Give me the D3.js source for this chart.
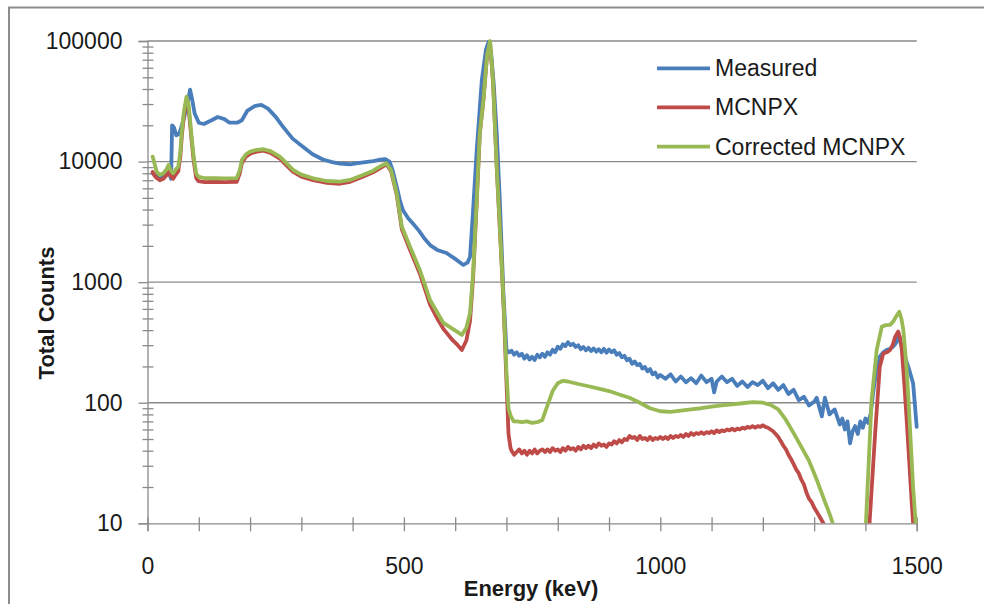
<!DOCTYPE html>
<html>
<head>
<meta charset="utf-8">
<script src="https://cdn.jsdelivr.net/npm/d3@7.9.0/dist/d3.min.js"></script>
<style>
  body { margin: 0; background: #fff; }
  svg { display: block; font-family: "Liberation Sans", Arial, sans-serif; }
</style>
</head>
<body>
<svg id="chart" width="984" height="604"></svg>
<script>
const seriesNames = ['Measured', 'MCNPX', 'Corrected MCNPX'];
const seriesColors = ['#4A7EBB', '#BE4B48', '#98B954'];
const xTicks = [0, 500, 1000, 1500];
const yTicks = [10, 100, 1000, 10000, 100000];

// [energy keV, counts]
const measured = [
  [10, 8000], [20, 7400], [30, 7600], [40, 8500], [46, 7200], [48, 20000], [52, 19000], [56, 16500],
  [62, 17000], [70, 22000], [78, 30000], [83, 39500], [87, 33000], [92, 25000], [100, 21000],
  [110, 20500], [125, 22000], [137, 23400], [150, 22500], [160, 21000], [175, 21000], [184, 22000],
  [195, 26500], [210, 29000], [222, 29500], [235, 27500], [250, 23500], [264, 19500], [283, 15500],
  [303, 13300], [322, 11500], [342, 10400], [360, 9900], [375, 9600], [395, 9500], [410, 9700],
  [425, 9900], [440, 10100], [454, 10400], [463, 10500], [472, 10000], [478, 8500], [486, 6200],
  [492, 4800], [498, 3970], [508, 3400], [518, 3050], [530, 2650], [540, 2300], [551, 2030],
  [565, 1850], [583, 1746], [600, 1560], [616, 1389], [624, 1450], [629, 1627], [635, 4000],
  [642, 12470], [652, 47490], [660, 85000], [665, 98000], [670, 80000], [675, 45000], [681, 17300],
  [687, 4806], [694, 813], [700, 275], [705, 262], [710, 270], [715, 250], [720, 262], [725, 245],
  [730, 255], [735, 232], [740, 248], [745, 228], [750, 240], [755, 226], [760, 250], [765, 238],
  [770, 255], [775, 240], [780, 262], [785, 250], [790, 275], [795, 262], [800, 292], [805, 280],
  [810, 305], [815, 295], [820, 318], [825, 300], [830, 308], [835, 290], [840, 300], [845, 278],
  [850, 290], [855, 272], [860, 285], [865, 268], [870, 282], [875, 265], [880, 278], [885, 262],
  [890, 280], [895, 260], [900, 276], [905, 262], [910, 272], [915, 250], [920, 258], [925, 238],
  [930, 245], [935, 225], [940, 232], [945, 210], [950, 220], [955, 205], [960, 210], [965, 192],
  [970, 198], [975, 182], [980, 190], [985, 172], [990, 178], [995, 162], [1000, 170], [1010, 158],
  [1020, 172], [1030, 150], [1040, 165], [1050, 148], [1060, 160], [1070, 145], [1080, 168],
  [1090, 148], [1100, 158], [1105, 122], [1110, 150], [1120, 165], [1130, 148], [1140, 158],
  [1150, 138], [1160, 150], [1170, 135], [1180, 148], [1190, 140], [1200, 152], [1210, 132],
  [1220, 145], [1230, 128], [1240, 140], [1250, 118], [1260, 128], [1270, 105], [1280, 112],
  [1290, 95], [1300, 102], [1305, 110], [1315, 77], [1321, 110], [1330, 80], [1340, 88], [1350, 66],
  [1355, 74], [1360, 60], [1365, 70], [1370, 46], [1375, 58], [1380, 64], [1385, 55], [1390, 70],
  [1395, 62], [1400, 74], [1405, 68], [1410, 80], [1415, 120], [1420, 170], [1428, 241],
  [1435, 262], [1441, 274], [1448, 280], [1454, 292], [1459, 310], [1464, 353], [1470, 300],
  [1477, 241], [1485, 190], [1493, 145], [1500, 63]
];

const mcnpx = [
  [10, 8200], [14, 7600], [18, 7300], [24, 7000], [31, 7200], [37, 7700], [41, 8500], [45, 7600],
  [50, 7200], [55, 7800], [60, 8300], [64, 11000], [67, 16500], [71, 24000], [76, 32000], [80, 28000],
  [83, 20500], [86, 15000], [90, 10200], [95, 7300], [99, 6900], [112, 6750], [130, 6800],
  [150, 6750], [174, 6800], [180, 8000], [184, 9700], [192, 11000], [200, 11600], [213, 12100],
  [226, 12300], [240, 11800], [258, 10600], [270, 9400], [284, 8200], [300, 7500], [323, 7000],
  [350, 6650], [375, 6550], [395, 6800], [420, 7500], [440, 8150], [453, 8800], [466, 9500],
  [475, 8300], [486, 5300], [496, 2750], [512, 1850], [531, 1180], [551, 650], [565, 500],
  [577, 410], [595, 330], [605, 300], [613, 274], [622, 330], [629, 480], [635, 1100], [642, 4600],
  [648, 17000], [655, 32000], [662, 75000], [668, 98000], [674, 44000], [681, 9000], [691, 1300],
  [695, 550], [700, 150], [704, 55], [708, 42], [710, 40], [715, 37], [720, 39], [725, 41],
  [730, 38], [735, 40], [740, 37], [745, 40], [750, 38], [755, 41], [760, 38], [765, 40], [770, 41],
  [775, 39], [780, 41], [785, 39], [790, 42], [795, 40], [800, 41], [805, 39], [810, 42], [815, 40],
  [820, 43], [825, 41], [830, 42], [835, 40], [840, 43], [845, 41], [850, 44], [855, 42], [860, 44],
  [865, 42], [870, 45], [875, 43], [880, 46], [885, 44], [890, 45], [895, 43], [900, 46], [905, 45],
  [910, 48], [915, 46], [920, 49], [925, 47], [930, 50], [935, 49], [940, 53], [945, 51], [950, 52],
  [955, 49], [960, 53], [965, 50], [970, 51], [975, 49], [980, 52], [985, 49], [990, 51], [995, 50],
  [1000, 52], [1005, 50], [1010, 52], [1015, 50], [1020, 53], [1025, 51], [1030, 53], [1035, 52],
  [1040, 54], [1045, 52], [1050, 55], [1055, 53], [1060, 56], [1065, 54], [1070, 56], [1075, 55],
  [1080, 57], [1085, 55], [1090, 57], [1095, 56], [1100, 58], [1105, 56], [1110, 59], [1115, 57],
  [1120, 59], [1125, 58], [1130, 60], [1135, 59], [1140, 61], [1145, 59], [1150, 61], [1155, 60],
  [1160, 62], [1165, 61], [1170, 63], [1175, 62], [1180, 64], [1185, 62], [1190, 64], [1195, 63],
  [1200, 65], [1205, 63], [1210, 62], [1215, 60], [1220, 58], [1225, 55], [1230, 52], [1235, 48],
  [1240, 44], [1245, 41], [1250, 37], [1255, 34], [1260, 31], [1265, 28], [1270, 26], [1275, 23],
  [1280, 21], [1285, 18], [1290, 16], [1295, 15], [1300, 13.5], [1310, 11.5], [1318, 10], [1325, 8],
  [1405, 8], [1408, 10], [1419, 56], [1428, 199], [1435, 257], [1442, 262], [1448, 274], [1453, 300],
  [1458, 353], [1464, 389], [1468, 340], [1471, 274], [1476, 140], [1480, 77], [1485, 35],
  [1490, 15.6], [1493, 10], [1496, 7]
];

const corrected = [
  [10, 11000], [14, 9500], [18, 8200], [24, 7740], [31, 8000], [37, 8600], [41, 9370], [45, 8500],
  [50, 8000], [55, 8600], [60, 9074], [64, 12000], [67, 18000], [71, 26000], [76, 34500],
  [80, 30000], [83, 22000], [86, 16000], [90, 11000], [95, 8000], [99, 7500], [112, 7270],
  [130, 7300], [150, 7250], [174, 7300], [180, 8500], [184, 10300], [192, 11500], [200, 12080],
  [213, 12500], [226, 12650], [240, 12200], [258, 10990], [270, 9800], [284, 8516], [300, 7800],
  [323, 7270], [350, 6900], [375, 6812], [395, 7036], [420, 7740], [440, 8400], [453, 9074],
  [466, 9680], [475, 8500], [486, 5460], [496, 2884], [512, 1969], [531, 1262], [551, 712],
  [565, 560], [577, 459], [595, 410], [605, 385], [613, 365], [622, 420], [629, 555], [635, 1192],
  [642, 4806], [648, 17270], [655, 32430], [662, 75000], [668, 100000], [674, 44880], [681, 9074],
  [691, 1344], [695, 600], [700, 180], [704, 90], [708, 78], [714, 70], [720, 70], [730, 69],
  [740, 70], [750, 68], [760, 69], [770, 72], [780, 95], [790, 125], [800, 145], [810, 152],
  [820, 150], [840, 143], [860, 137], [880, 131], [900, 125], [920, 117], [940, 110], [960, 100],
  [980, 90], [1000, 85], [1020, 84], [1040, 86], [1060, 88], [1080, 90], [1100, 93], [1120, 95],
  [1140, 97], [1160, 99], [1180, 101], [1200, 100], [1215, 96], [1230, 88], [1245, 72], [1260, 56],
  [1275, 43], [1290, 33], [1305, 23], [1320, 15.5], [1330, 12], [1340, 9], [1398, 8], [1401, 10],
  [1412, 105], [1422, 274], [1432, 428], [1440, 440], [1448, 442], [1454, 470], [1460, 520],
  [1466, 569], [1470, 500], [1474, 401], [1480, 200], [1484, 105], [1488, 50], [1493, 20],
  [1498, 10], [1500, 8]
];

const series = [measured, mcnpx, corrected];

const grid = '#8a8a8a';
const plot = { left: 147.5, right: 916.7, top: 41, bottom: 523.3 };
const svg = d3.select('#chart');

const x = d3.scaleLinear().domain([0, 1500]).range([plot.left, plot.right]);
const y = d3.scaleLog().domain([10, 100000]).range([plot.bottom, plot.top]);

// outer chart frame
svg.append('rect')
  .attr('x', 9).attr('y', 7.5)
  .attr('width', 1000).attr('height', 1000)
  .attr('fill', 'none')
  .attr('stroke', '#8c8c8c')
  .attr('stroke-width', 2);

// horizontal gridlines
svg.append('g')
  .selectAll('line')
  .data(yTicks.slice(1))
  .join('line')
  .attr('x1', plot.left).attr('x2', plot.right)
  .attr('y1', (d) => y(d)).attr('y2', (d) => y(d))
  .attr('stroke', grid)
  .attr('stroke-width', 1.3);

// y axis with log minor ticks
const yAll = [];
for (let dec = 10; dec < 100000; dec *= 10) {
  for (let k = 1; k < 10; k++) yAll.push(k * dec);
}
yAll.push(100000);

const yAxis = svg.append('g')
  .attr('transform', `translate(${plot.left},0)`)
  .call(d3.axisLeft(y).tickValues(yAll)
    .tickFormat((d) => (yTicks.includes(d) ? d : ''))
    .tickSize(9).tickPadding(16));
yAxis.select('.domain').attr('stroke', grid).attr('stroke-width', 1.3);
yAxis.selectAll('.tick line').attr('stroke', grid).attr('stroke-width', 1.3);
yAxis.selectAll('.tick').filter((d) => !yTicks.includes(d))
  .select('line').attr('x1', -5).attr('x2', 6);
yAxis.selectAll('.tick text').attr('font-size', 23).attr('fill', '#1a1a1a')
  .attr('font-family', '"Liberation Sans", Arial, sans-serif');

// x axis
const xAxis = svg.append('g')
  .attr('transform', `translate(0,${plot.bottom})`)
  .call(d3.axisBottom(x).tickValues(d3.range(0, 1501, 100))
    .tickFormat((d) => (xTicks.includes(d) ? d : ''))
    .tickSize(8).tickPadding(26));
xAxis.select('.domain').attr('stroke', grid).attr('stroke-width', 1.3);
xAxis.selectAll('.tick line').attr('stroke', grid).attr('stroke-width', 1.3).attr('y1', -6);
xAxis.selectAll('.tick text').attr('font-size', 23).attr('fill', '#1a1a1a')
  .attr('font-family', '"Liberation Sans", Arial, sans-serif');

// data lines
svg.append('clipPath').attr('id', 'plot-clip')
  .append('rect')
  .attr('x', plot.left).attr('y', plot.top - 3)
  .attr('width', plot.right - plot.left + 3)
  .attr('height', plot.bottom - plot.top + 3);

const line = d3.line()
  .x((d) => x(d[0]))
  .y((d) => y(d[1]));

svg.append('g')
  .attr('clip-path', 'url(#plot-clip)')
  .selectAll('path')
  .data(series)
  .join('path')
  .attr('d', line)
  .attr('fill', 'none')
  .attr('stroke', (d, i) => seriesColors[i])
  .attr('stroke-width', 3.8)
  .attr('stroke-linejoin', 'round')
  .attr('stroke-linecap', 'round');

// axis titles
svg.append('text')
  .attr('x', 531).attr('y', 596)
  .attr('text-anchor', 'middle')
  .attr('font-size', 22).attr('font-weight', 'bold').attr('fill', '#1a1a1a')
  .text('Energy (keV)');

svg.append('text')
  .attr('transform', 'translate(54,313) rotate(-90)')
  .attr('text-anchor', 'middle')
  .attr('font-size', 22).attr('font-weight', 'bold').attr('fill', '#1a1a1a')
  .text('Total Counts');

// legend
const legendY = [68.3, 107.3, 146.7];
const legend = svg.append('g')
  .selectAll('g')
  .data(seriesNames)
  .join('g')
  .attr('transform', (d, i) => `translate(657,${legendY[i]})`);

legend.append('line')
  .attr('x1', 0).attr('x2', 53)
  .attr('stroke', (d, i) => seriesColors[i])
  .attr('stroke-width', 3.8);

legend.append('text')
  .attr('x', 58).attr('y', 8)
  .attr('font-size', 23).attr('fill', '#1a1a1a')
  .text((d) => d);
</script>
</body>
</html>
